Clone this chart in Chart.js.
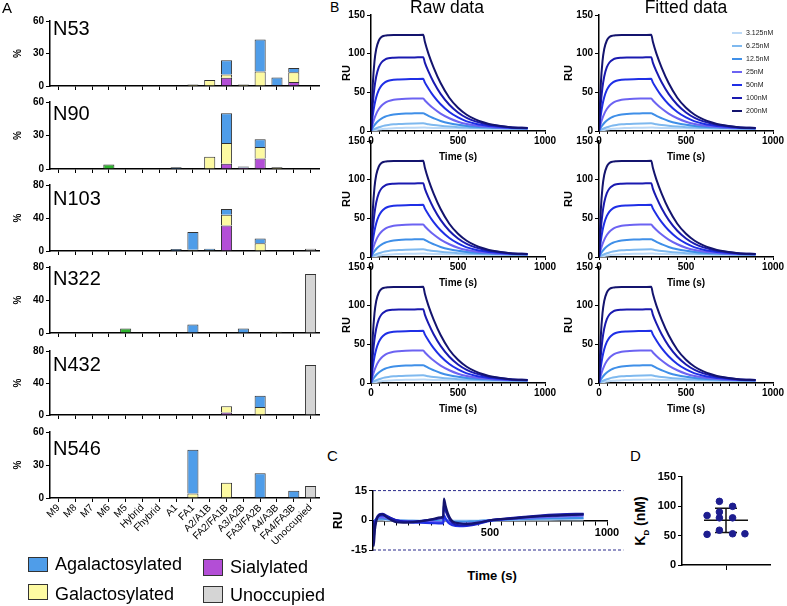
<!DOCTYPE html>
<html>
<head>
<meta charset="utf-8">
<script src="https://cdn.jsdelivr.net/npm/chart.js@4.4.1/dist/chart.umd.min.js"></script>
<style>
body { margin: 0; width: 787px; height: 606px; position: relative; background: #fff; overflow: hidden;
       font-family: "Liberation Sans", Arial, sans-serif; color: #000; }
canvas { position: absolute; }
.lbl { position: absolute; line-height: 1; white-space: nowrap; }
.sw { position: absolute; border: 1.5px solid #333; box-sizing: border-box; }
.key { position: absolute; font-size: 7px; line-height: 1; color: #222; }
.key span { display: inline-block; width: 10px; height: 2px; vertical-align: middle; margin-right: 4px; }
</style>
</head>
<body>
<script>
// ---------- panel A : site occupancy ----------
const glycoforms = ['M9', 'M8', 'M7', 'M6', 'M5', 'Hybrid', 'Fhybrid', 'A1', 'FA1', 'A2/A1B',
                    'FA2/FA1B', 'A3/A2B', 'FA3/FA2B', 'A4/A3B', 'FA4/FA3B', 'Unoccupied'];

//                 M9 M8 M7 M6 M5  Hy Fh A1   FA1   A2   FA2  A3   FA3   A4   FA4  Unocc
const n53_sial  = [0, 0, 0, 0, 0,  0, 0, 0,   0,    0,   7.7, 0,   0,    0.8, 3.6, 0];
const n53_gal   = [0, 0, 0, 0, 0,  0, 0, 0,   1.5,  5.5, 3,   1.5, 13.4, 0,   9,   0];
const n53_agal  = [0, 0, 0, 0, 0,  0, 0, 0,   0,    0,   13,  0,   29.6, 7,   4.1, 0];
const n53_man   = [0, 0, 0, 0, 0,  0, 0, 0,   0,    0,   0,   0,   0,    0,   0,   0];
const n53_unocc = [0, 0, 0, 0, 0,  0, 0, 0,   0,    0,   0,   0,   0,    0,   0,   0];

const n90_sial  = [0, 0, 0, 0, 0,  0, 0, 0,   0,    0,   4.7, 1.3, 9.3,  0,   0,   0];
const n90_gal   = [0, 0, 0, 0, 0,  0, 0, 0,   0,    11,  18.5,0,   10.4, 1.5, 0,   0];
const n90_agal  = [0, 0, 0, 0, 0,  0, 0, 1.5, 0,    0,   26.8,1,   7,    0,   0,   0];
const n90_man   = [0, 0, 0, 4, 0,  0, 0, 0,   0,    0,   0,   0,   0,    0,   0,   0];
const n90_unocc = [0, 0, 0, 0, 0,  0, 0, 0,   0,    0,   0,   0,   0,    0,   0,   0];

const n103_sial  = [0, 0, 0, 0, 0, 0, 0, 0,   0,    0,   31,  0,   0,    0,   0,   0];
const n103_gal   = [0, 0, 0, 0, 0, 0, 0, 0,   1.5,  1,   13,  0,   9.4,  0,   0,   0];
const n103_agal  = [0, 0, 0, 0, 0, 0, 0, 2.5, 21.5, 1.8, 7,   0,   5.9,  0,   0,   0];
const n103_man   = [0, 0, 0, 0, 0, 0, 0, 0,   0,    0,   0,   0,   0,    0,   0,   0];
const n103_unocc = [0, 0, 0, 0, 0, 0, 0, 0,   0,    0,   0,   0,   0,    0,   0,   2.8];

const n322_sial  = [0, 0, 0, 0, 0,   0, 0, 0, 0,    0,   0,   0,   0,    0,   0,   0];
const n322_gal   = [0, 0, 0, 0, 0,   0, 0, 0, 0,    0,   0,   0,   0,    1.5, 0,   0];
const n322_agal  = [0, 0, 0, 0, 0,   0, 0, 0, 10.2, 0,   0,   5.5, 0,    0,   0,   0];
const n322_man   = [0, 0, 0, 0, 5.5, 0, 0, 0, 0,    0,   0,   0,   0,    0,   0,   0];
const n322_unocc = [0, 0, 0, 0, 0,   0, 0, 0, 0,    0,   0,   0,   0,    0,   0,   71.4];

const n432_sial  = [0, 0, 0, 0, 0, 0, 0, 0, 0,    0,   3.2, 0,   0,    0,   0,   0];
const n432_gal   = [0, 0, 0, 0, 0, 0, 0, 0, 0,    0,   7.7, 0,   10,   0,   0,   0];
const n432_agal  = [0, 0, 0, 0, 0, 0, 0, 0, 0,    0,   0,   0,   14,   0,   0,   0];
const n432_man   = [0, 0, 0, 0, 0, 0, 0, 0, 0,    0,   0,   0,   0,    0,   0,   0];
const n432_unocc = [0, 0, 0, 0, 0, 0, 0, 0, 0,    0,   0,   0,   0,    0,   0,   62.4];

const n546_sial  = [0, 0, 0, 0, 0, 0,   0, 0, 0,    0,   0,   0,   0,    0,   0,   0];
const n546_gal   = [0, 0, 0, 0, 0, 0,   0, 0, 4,    0,   13.8,0,   0,    0,   0,   0];
const n546_agal  = [0, 0, 0, 0, 0, 0.6, 0, 0, 39.8, 0,   0,   0,   22.6, 0,   6.5, 0];
const n546_man   = [0, 0, 0, 0, 0, 0,   0, 0, 0,    0,   0,   0,   0,    0,   0,   0];
const n546_unocc = [0, 0, 0, 0, 0, 0,   0, 0, 0,    0,   0,   0,   0,    0,   0,   10.9];

const siteNames = ['N53', 'N90', 'N103', 'N322', 'N432', 'N546'];
const siteMax   = [60, 60, 80, 80, 80, 60];

// ---------- panel B : SPR sensorgrams (RU vs time) ----------
const concLabels = ['3.125nM', '6.25nM', '12.5nM', '25nM', '50nM', '100nM', '200nM'];
const ruTicks = [0, 50, 100, 150];
const timeB = [0, 10, 20, 30, 45, 60, 80, 100, 130, 160, 200, 250, 300,
               310, 330, 360, 400, 450, 500, 550, 600, 650, 700, 800, 900];
const ru3  = [0, 0.5, 1, 1.4, 1.9, 2.3, 2.8, 3.1, 3.6, 3.8, 4.1, 4.3, 4.4, 4.4, 4.2, 4, 3.8, 3.6, 3.4, 3.3, 3.2, 3.1, 3, 3, 2.9];
const ru6  = [0, 1.4, 2.6, 3.6, 4.9, 5.9, 7, 7.8, 8.6, 9.1, 9.5, 9.8, 9.9, 9.6, 8.8, 7.8, 6.8, 5.8, 5, 4.5, 4, 3.7, 3.5, 3.2, 3];
const ru12 = [0, 4.2, 7.6, 10.4, 13.6, 16.1, 18.4, 19.9, 21.3, 22.1, 22.6, 22.8, 23, 22, 19.5, 16.5, 13, 10, 8, 6.5, 5.5, 4.8, 4.2, 3.6, 3.2];
const ru25 = [0, 9.3, 16.5, 22.2, 28.4, 32.6, 36.3, 38.6, 40.4, 41.2, 41.7, 41.9, 42, 39.5, 35, 29, 22.5, 16.5, 12, 9, 7, 5.8, 5, 4, 3.4];
const ru50 = [0, 19.8, 33.7, 43.6, 53.1, 58.8, 62.9, 65, 66.3, 66.7, 67, 67.2, 67.5, 62.5, 55, 45, 34.5, 24.5, 17.5, 12.5, 9.5, 7.5, 6, 4.3, 3.6];
const ru100 = [0, 34.4, 56.3, 70.4, 82.5, 88.6, 92.4, 94, 94.7, 95, 95, 95.2, 95.5, 88, 77, 63, 48, 34, 24, 17, 12.5, 9.5, 7.3, 4.8, 3.8];
const ru200 = [0, 59, 90, 106, 117, 121.5, 123.3, 123.8, 124, 124, 124, 124, 124.5, 115, 100, 82, 62, 43, 30, 21, 15, 11, 8, 5, 4];

// ---------- panel C : residuals ----------
const timeC = [0, 3, 8, 15, 25, 40, 60, 80, 100, 130, 160, 200, 250, 290, 300, 303, 310, 320, 340, 370, 400, 450, 500, 600, 700, 800, 900];
const res200 = [0, -13, -5, 0, 2.5, 3, 1.5, 0, -1, -1.2, -1, -0.5, 0.5, 1.5, 1.8, 11, 7.5, 3.5, -0.5, -1.5, -1.8, -1.2, 0, 1, 2, 2.5, 3];
const res100 = [0, -9, -3, 0.8, 2.8, 3.2, 2.2, 1, 0, -0.6, -0.7, -0.4, 0.3, 1, 1.2, 8, 5, 2, -1.5, -2.5, -2.5, -1.5, 0, 1.2, 2.3, 3, 3.3];
const res50 = [0, -5, -1.5, 1, 2.2, 2.5, 1.8, 0.8, 0, -0.6, -1, -1.2, -1.4, -1.6, -1.6, 2.5, 1, -1, -2.5, -3, -2.8, -1.8, -0.3, 1, 2, 2.6, 3];
const res25 = [0, -2.5, -0.5, 0.8, 1.5, 1.6, 1.1, 0.5, 0, -0.4, -0.6, -0.8, -0.9, -1, -1, 1.2, 0.5, -0.5, -1.5, -1.8, -1.7, -1, 0, 0.8, 1.5, 2, 2.3];
const res12 = [0, -1, 0, 0.5, 0.8, 0.8, 0.6, 0.3, 0, -0.2, -0.3, -0.4, -0.4, -0.5, -0.5, 0.6, 0.2, -0.2, -0.6, -0.7, -0.6, -0.4, 0, 0.4, 0.8, 1, 1.2];
const res3 = [0, -0.3, 0, 0.2, 0.3, 0.3, 0.2, 0.1, 0, -0.1, -0.1, -0.1, -0.1, -0.2, -0.2, 0.3, 0.1, 0, -0.2, -0.2, -0.2, -0.1, 0, 0.2, 0.3, 0.4, 0.5];
const residualLimit = 15;

// ---------- panel D : KD replicates ----------
const kdX = [0.57, 0.85, 0.85, 1.15, 0.85, 1.15, 0.57, 0.85, 1.15, 1.43];
const kdY = [84, 108, 90, 99.5, 80, 80, 52, 59, 53, 53];

Chart.defaults.font.family = '"Liberation Sans", Arial, sans-serif';
Chart.defaults.color = '#000';

var concColors = ['#bcd9f6', '#7fb9ef', '#3f8fe8', '#6c63f2', '#1f2fe6', '#1a1ab0', '#14146e'];

// small helper for the plain text bits (panel letters, titles, legends)
function addText(html, css, cls) {
    var d = document.createElement('div');
    d.className = cls || 'lbl';
    d.style.cssText = css;
    d.innerHTML = html;
    document.body.appendChild(d);
    return d;
}

// canvas placed so that the plot area lands on box = [left, top, right, bottom]
function makeCanvas(id, box, yW, xH, pad) {
    var x = box[0] - yW - pad.left, y = box[1] - pad.top;
    var w = box[2] + pad.right - x, h = box[3] + xH + pad.bottom - y;
    var c = document.createElement('canvas');
    c.id = id;
    c.width = w; c.height = h;
    c.style.left = x + 'px'; c.style.top = y + 'px';
    c.style.width = w + 'px'; c.style.height = h + 'px';
    document.body.appendChild(c);
    return c;
}

function axis(extra) {
    return Object.assign({
        grid: { drawOnChartArea: false, drawTicks: true, tickLength: 4, color: '#000', lineWidth: 1 },
        border: { display: true, color: '#000', width: 1.5 }
    }, extra);
}

function boldFont(size) { return { size: size, weight: 'bold' }; }

// fixed tick list, so the top value is always labelled
function fixedTicks(values) {
    return function (s) { s.ticks = values.map(v => ({ value: v })); };
}

function glycoChart(id, box, series, yMax, showLabels) {
    var pad = { top: 6, right: 4, bottom: 2, left: 0 };
    var xH = showLabels ? 62 : 6;
    var canvas = makeCanvas(id, box, 38, xH, pad);
    var names = ['Sialylated', 'Galactosylated', 'Agalactosylated', 'High mannose', 'Unoccupied'];
    var colors = ['#b34ed6', '#fdfaa2', '#4f9de9', '#2fb52f', '#d5d5d5'];
    var datasets = series.map(function (s, i) {
        return {
            label: names[i],
            data: s.map(v => v || null),
            backgroundColor: colors[i],
            borderColor: '#333',
            borderWidth: 1,
            barPercentage: 0.66,
            categoryPercentage: 1
        };
    });
    return new Chart(canvas, {
        type: 'bar',
        data: { labels: glycoforms, datasets: datasets },
        options: {
            responsive: false,
            animation: false,
            layout: { padding: pad },
            plugins: { legend: { display: false }, tooltip: { enabled: false } },
            scales: {
                x: axis({
                    stacked: true,
                    grid: { offset: false, drawOnChartArea: false, tickLength: 4, color: '#000' },
                    ticks: { display: showLabels, autoSkip: false, minRotation: 45, maxRotation: 45, padding: 0, font: { size: 10 } },
                    afterFit: s => { s.height = xH; }
                }),
                y: axis({
                    stacked: true, min: 0, max: yMax,
                    ticks: { padding: 2, font: boldFont(10) },
                    afterBuildTicks: fixedTicks([0, yMax / 2, yMax]),
                    title: { display: true, text: '%', padding: 0, font: boldFont(10) },
                    afterFit: s => { s.width = 38; }
                })
            }
        }
    });
}

function kineticChart(id, box, yW) {
    var pad = { top: 10, right: 14, bottom: 0, left: 0 };
    var canvas = makeCanvas(id, box, yW, 32, pad);
    var ruSeries = [ru200, ru100, ru50, ru25, ru12, ru6, ru3];
    var datasets = ruSeries.map(function (arr, i) {
        var k = 6 - i;
        return {
            label: concLabels[k],
            data: timeB.map((t, j) => ({ x: t, y: arr[j] })),
            borderColor: concColors[k],
            borderWidth: 2,
            pointRadius: 0,
            fill: false,
            cubicInterpolationMode: 'monotone'
        };
    });
    return new Chart(canvas, {
        type: 'line',
        data: { datasets: datasets },
        options: {
            responsive: false,
            animation: false,
            layout: { padding: pad },
            plugins: { legend: { display: false }, tooltip: { enabled: false } },
            scales: {
                x: axis({
                    type: 'linear', min: 0, max: 1000,
                    grid: { drawOnChartArea: false, tickLength: 3, color: '#000' },
                    ticks: { stepSize: 50, autoSkip: false, maxRotation: 0, padding: 1, font: boldFont(10),
                             callback: v => (v % 500 === 0 ? v : '') },
                    title: { display: true, text: 'Time (s)', padding: 0, font: boldFont(10) },
                    afterFit: s => { s.height = 32; }
                }),
                y: axis({
                    min: 0, max: 150,
                    ticks: { autoSkip: false, padding: 2, font: boldFont(10), callback: v => String(v) },
                    afterBuildTicks: fixedTicks(ruTicks),
                    title: { display: true, text: 'RU', padding: 0, font: boldFont(11) },
                    afterFit: s => { s.width = yW; }
                })
            }
        }
    });
}

function residualChart(id, box) {
    var pad = { top: 8, right: 20, bottom: 14, left: 0 };
    var canvas = makeCanvas(id, box, 42, 0, pad);
    var resSeries = [res200, res100, res50, res25, res12, res3];
    var resColors = ['#14146e', '#1a1ab0', '#1f2fe6', '#6c63f2', '#3f8fe8', '#bcd9f6'];
    var datasets = resSeries.map(function (arr, i) {
        return {
            data: timeC.map((t, j) => ({ x: t, y: arr[j] })),
            borderColor: resColors[i], borderWidth: 2.2, pointRadius: 0,
            cubicInterpolationMode: 'monotone'
        };
    });
    [residualLimit, -residualLimit].forEach(function (lim) {
        datasets.push({
            data: [{ x: 0, y: lim }, { x: 1070, y: lim }],
            borderColor: '#2b2b8c', borderWidth: 1, borderDash: [3, 2], pointRadius: 0, clip: false
        });
    });
    return new Chart(canvas, {
        type: 'line',
        data: { datasets: datasets },
        options: {
            responsive: false,
            animation: false,
            layout: { padding: pad },
            plugins: { legend: { display: false }, tooltip: { enabled: false } },
            scales: {
                x: axis({
                    type: 'linear', min: 0, max: 1000, position: { y: 0 },
                    grid: { drawOnChartArea: false, tickLength: 4, color: '#000' },
                    ticks: { stepSize: 50, autoSkip: false, maxRotation: 0, padding: 2, font: boldFont(11),
                             callback: v => (v > 0 && v % 500 === 0 ? v : '') }
                }),
                y: axis({
                    min: -15, max: 15,
                    ticks: { autoSkip: false, padding: 2, font: boldFont(11) },
                    afterBuildTicks: fixedTicks([-15, 0, 15]),
                    title: { display: true, text: 'RU', padding: 0, font: boldFont(12) },
                    afterFit: s => { s.width = 42; }
                })
            }
        }
    });
}

function kdChart(id, box) {
    var pad = { top: 8, right: 6, bottom: 2, left: 0 };
    var canvas = makeCanvas(id, box, 30, 8, pad);
    var mean = kdY.reduce((a, b) => a + b, 0) / kdY.length;
    var sd = Math.sqrt(kdY.reduce((a, b) => a + (b - mean) * (b - mean), 0) / (kdY.length - 1));
    var hi = mean + sd, lo = mean - sd;
    return new Chart(canvas, {
        type: 'scatter',
        data: {
            datasets: [
                { data: kdX.map((x, i) => ({ x: x, y: kdY[i] })), backgroundColor: '#1d1d8f', borderColor: '#1d1d8f', pointRadius: 3.3 },
                { type: 'line', data: [{ x: 0.5, y: mean }, { x: 1.5, y: mean }], borderColor: '#111', borderWidth: 1.5, pointRadius: 0 },
                { type: 'line', data: [{ x: 0.75, y: hi }, { x: 1.25, y: hi }, { x: 1.25, y: null }, { x: 1, y: hi }, { x: 1, y: lo },
                                       { x: 1, y: null }, { x: 0.75, y: lo }, { x: 1.25, y: lo }],
                  borderColor: '#111', borderWidth: 1.5, pointRadius: 0, spanGaps: false }
            ]
        },
        options: {
            responsive: false,
            animation: false,
            layout: { padding: pad },
            plugins: { legend: { display: false }, tooltip: { enabled: false } },
            scales: {
                x: axis({
                    type: 'linear', min: 0, max: 2,
                    grid: { drawOnChartArea: false, tickLength: 5, color: '#000' },
                    ticks: { display: false },
                    afterBuildTicks: fixedTicks([1]),
                    afterFit: s => { s.height = 8; }
                }),
                y: axis({
                    min: 0, max: 150,
                    ticks: { autoSkip: false, padding: 2, font: boldFont(11) },
                    afterBuildTicks: fixedTicks([0, 50, 100, 150]),
                    afterFit: s => { s.width = 30; }
                })
            }
        }
    });
}

// panel B first, three replicate rows, raw and fitted
var rowsB = [[15, 131], [141, 257], [267, 383]];
for (let r = 0; r < rowsB.length; r++) {
    kineticChart('raw' + r, [371, rowsB[r][0], 545, rowsB[r][1]], 31);
    kineticChart('fit' + r, [599, rowsB[r][0], 773, rowsB[r][1]], 37);
}
for (let i = 0; i < concLabels.length; i++) {
    addText('<span style="background:' + concColors[i] + '"></span>' + concLabels[i],
            'left:732px;top:' + (29 + i * 13) + 'px', 'key');
}

// panels C and D
residualChart('resid', [373, 490, 607, 550]);
kdChart('kd', [682, 476, 770, 565]);

// panel A
var siteBoxes = [[50, 19, 319, 86], [50, 100, 319, 169], [50, 183, 319, 251],
                 [50, 265, 319, 333], [50, 349, 319, 415], [50, 430, 319, 498]];
var siteTitleTop = [18, 103, 188, 268, 354, 438];
var siteSeries = [
    [n53_sial, n53_gal, n53_agal, n53_man, n53_unocc],
    [n90_sial, n90_gal, n90_agal, n90_man, n90_unocc],
    [n103_sial, n103_gal, n103_agal, n103_man, n103_unocc],
    [n322_sial, n322_gal, n322_agal, n322_man, n322_unocc],
    [n432_sial, n432_gal, n432_agal, n432_man, n432_unocc],
    [n546_sial, n546_gal, n546_agal, n546_man, n546_unocc]
];
for (let i = 0; i < siteNames.length; i++) {
    glycoChart('site' + i, siteBoxes[i], siteSeries[i], siteMax[i], i === siteNames.length - 1);
    addText(siteNames[i], 'left:53px;top:' + siteTitleTop[i] + 'px;font-size:20px');
}

// text labels
addText('A', 'left:2px;top:0px;font-size:15px');
addText('B', 'left:330px;top:0px;font-size:14px');
addText('C', 'left:327px;top:448px;font-size:15px');
addText('D', 'left:630px;top:448px;font-size:15px');
addText('Raw data', 'left:400px;top:-1px;width:94px;text-align:center;font-size:17.5px');
addText('Fitted data', 'left:636px;top:-1px;width:100px;text-align:center;font-size:17.5px');
addText('', 'left:28px;top:557px;width:20px;height:15px;background:#4f9de9', 'sw');
addText('Agalactosylated', 'left:55px;top:555px;font-size:18px');
addText('', 'left:203px;top:559px;width:20px;height:17px;background:#b34ed6', 'sw');
addText('Sialylated', 'left:230px;top:558px;font-size:18px');
addText('', 'left:28px;top:584px;width:20px;height:16px;background:#fdfaa2', 'sw');
addText('Galactosylated', 'left:55px;top:585px;font-size:18px');
addText('', 'left:203px;top:586px;width:20px;height:17px;background:#d5d5d5', 'sw');
addText('Unoccupied', 'left:230px;top:586px;font-size:18px');
addText('Time (s)', 'left:392px;top:569px;width:200px;text-align:center;font-size:13px;font-weight:bold');
addText('K<sub style="font-size:8px">D</sub> (nM)', 'left:601px;top:513px;width:80px;height:16px;text-align:center;font-size:14px;font-weight:bold;transform:rotate(-90deg)');
</script>
</body>
</html>
